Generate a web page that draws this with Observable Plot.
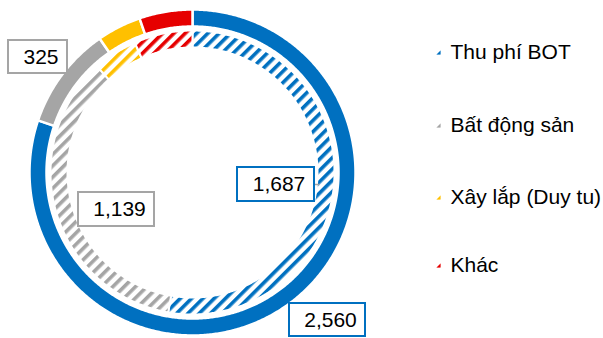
<!DOCTYPE html>
<html><head><meta charset="utf-8">
<script src="https://cdn.jsdelivr.net/npm/d3@7"></script>
<script src="https://cdn.jsdelivr.net/npm/@observablehq/plot@0.6"></script>
<style>body{margin:0;background:#fff;overflow:hidden}</style>
</head><body><div id="chart"></div>
<script>
// ---- data ----
const categories = ["Thu phí BOT", "Bất động sản", "Xây lắp (Duy tu)", "Khác"];
const outerValues = [2560, 325, 140, 168];
const innerValues = [1687, 1139, 160, 213];
const outerLabels = ["2,560", "325", null, null];
const innerLabels = ["1,687", "1,139", null, null];
const colors = ["#0070C0", "#A5A5A5", "#FFC000", "#E60000"];

// ---- layout (pixel offsets from donut centre, y up) ----
const W = 603, H = 338, CX = 192, CY = 172;
const rings = {outer: [146, 163], inner: [125, 142]};
const labelBoxes = [
  {ring: "outer", i: 0, cx: 135, cy: -147.5, w: 76, h: 33},
  {ring: "outer", i: 1, cx: -154.5, cy: 115.5, w: 59, h: 33},
  {ring: "inner", i: 0, cx: 83.5, cy: -12, w: 77, h: 34, leader: true},
  {ring: "inner", i: 1, cx: -76, cy: -37, w: 76, h: 34}
];
const legendX = 258, legendMarkX = 246;
const legendY = [120, 47, -25, -93];

// ---- geometry from data via d3.pie ----
function slices(values, ring) {
  const arcs = d3.pie().sort(null).value(d => d)(values);
  const [r0, r1] = rings[ring];
  return arcs.map((a, i) => {
    const n = Math.max(2, Math.ceil((a.endAngle - a.startAngle) / (Math.PI / 360)));
    const pts = [];
    for (let k = 0; k <= n; k++) {
      const t = a.startAngle + (a.endAngle - a.startAngle) * k / n;
      pts.push({x: r1 * Math.sin(t), y: r1 * Math.cos(t)});
    }
    for (let k = n; k >= 0; k--) {
      const t = a.startAngle + (a.endAngle - a.startAngle) * k / n;
      pts.push({x: r0 * Math.sin(t), y: r0 * Math.cos(t)});
    }
    return {i, ring, pts};
  });
}
const outerSlices = slices(outerValues, "outer");
const innerSlices = slices(innerValues, "inner");

const boxes = labelBoxes.map(b => ({
  ...b,
  text: (b.ring === "outer" ? outerLabels : innerLabels)[b.i],
  color: colors[b.i],
  x1: b.cx - b.w / 2, x2: b.cx + b.w / 2, y1: b.cy - b.h / 2, y2: b.cy + b.h / 2
}));
const leaders = boxes.filter(b => b.leader).map(b => {
  const rm = (rings[b.ring][0] + rings[b.ring][1]) / 2 - 6;
  return {x1: b.x2, y1: b.cy, x2: Math.sqrt(rm * rm - b.cy * b.cy), y2: b.cy};
});
const legend = categories.map((c, i) => ({c, i, x: legendX, mx: legendMarkX, y: legendY[i]}));

const font = "'Liberation Sans', Arial, sans-serif";
const marks = [];
outerSlices.forEach(s => marks.push(Plot.line(s.pts, {
  x: "x", y: "y", curve: "linear-closed", fill: colors[s.i], stroke: "white", strokeWidth: 2.5
})));
innerSlices.forEach(s => marks.push(Plot.line(s.pts, {
  x: "x", y: "y", curve: "linear-closed", fill: `url(#hatch-${s.i})`, stroke: "white", strokeWidth: 2
})));
marks.push(Plot.link(leaders, {x1: "x1", y1: "y1", x2: "x2", y2: "y2", stroke: "#A5A5A5", strokeWidth: 1.5}));
marks.push(Plot.rect(boxes, {x1: "x1", x2: "x2", y1: "y1", y2: "y2", fill: "white", stroke: "color", strokeWidth: 2}));
marks.push(Plot.text(boxes, {x: "cx", y: "cy", text: "text", dx: 3, fontSize: 21, fill: "black"}));
marks.push(Plot.dot(legend, {x: "mx", y: "y", symbol: "square", r: 2.4, fill: d => `url(#hatch-${d.i})`, stroke: null}));
marks.push(Plot.text(legend, {x: "x", y: "y", text: "c", textAnchor: "start", fontSize: 21, fill: "black"}));

const svg = Plot.plot({
  width: W, height: H,
  margin: 0,
  style: {fontFamily: font, background: "white", overflow: "visible"},
  x: {domain: [-CX, W - CX], range: [0, W], axis: null},
  y: {domain: [CY - H, CY], range: [H, 0], axis: null},
  color: {type: "identity"},
  marks
});

const defs = d3.select(svg).insert("defs", ":first-child");
colors.forEach((c, i) => {
  const p = defs.append("pattern").attr("id", `hatch-${i}`)
    .attr("patternUnits", "userSpaceOnUse").attr("width", 8).attr("height", 8)
    .attr("patternTransform", "rotate(45)");
  p.append("rect").attr("width", 3.6).attr("height", 8).attr("fill", c);
});
document.getElementById("chart").appendChild(svg);
</script>
</body></html>
